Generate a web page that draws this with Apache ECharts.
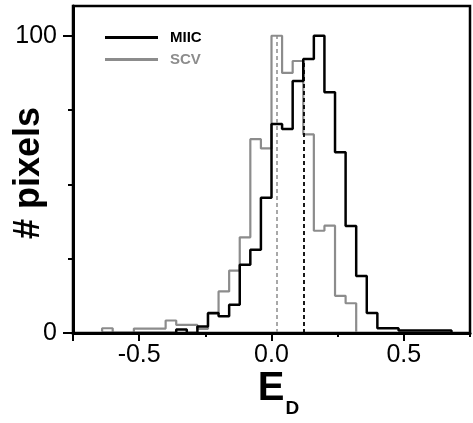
<!DOCTYPE html>
<html>
<head>
<meta charset="utf-8">
<script src="https://cdn.jsdelivr.net/npm/echarts@6/dist/echarts.min.js"></script>
<style>
  html, body { margin: 0; padding: 0; background: #fff; }
  #chart { width: 473px; height: 423px; }
</style>
</head>
<body>
<div id="chart"></div>
<script>
// histogram bin edges (bin width 0.04)
var binEdges = [-0.64, -0.60, -0.56, -0.52, -0.48, -0.44, -0.40, -0.36, -0.32, -0.28,
  -0.24, -0.20, -0.16, -0.12, -0.08, -0.04, 0.00, 0.04, 0.08, 0.12,
  0.16, 0.20, 0.24, 0.28, 0.32, 0.36, 0.40, 0.44, 0.48, 0.52,
  0.56, 0.60, 0.64, 0.68]

// counts per bin
var miicCounts = [0, 0, 0, 0, 0, 0, 0, 1.2, 0, 2.2,
  6.7, 5.6, 9.5, 23, 28, 45.5, 70.3, 68.6, 84.8, 92.2,
  100, 81, 60.8, 36, 19.2, 6.7, 1.6, 1.6, 0.8, 0.8,
  0.8, 0.8, 0.8]
var scvCounts = [1.6, 0, 0, 1.5, 1.5, 1.5, 4.2, 2.7, 2.7, 1.4,
  6.5, 14, 21, 32.2, 65.2, 62.1, 100, 87.5, 91.5, 66.8,
  34.4, 36.1, 12.5, 10]

// mean E_D markers (dashed lines)
var meanMIIC = 0.12
var meanSCV = 0.02

var xTickMajor = [-0.75, -0.5, 0, 0.5]
var xTickMinor = [-0.75, -0.5, -0.25, 0, 0.25, 0.5, 0.75]
var xLabelValues = [-0.5, 0, 0.5]
var yTickMinor = [0, 25, 50, 75, 100]
var yLabelValues = [0, 100]

var BLACK = '#000'
var GREY = '#8c8c8c'
var FONT = 'Liberation Sans, Arial, sans-serif'

function stepData (counts) {
  var pts = [[binEdges[0], 0]]
  for (var i = 0; i < counts.length; i++) {
    pts.push([binEdges[i], counts[i]])
  }
  pts.push([binEdges[counts.length], 0])
  return pts
}

function heightAt (counts, x) {
  for (var i = 0; i < counts.length; i++) {
    if (x >= binEdges[i] - 1e-9 && x < binEdges[i + 1] - 1e-9) return counts[i]
  }
  return 0
}

function meanLine (counts, x, color, width) {
  return {
    silent: true,
    animation: false,
    symbol: ['none', 'none'],
    label: { show: false },
    lineStyle: { color: color, type: [4, 3], width: width },
    data: [[{ coord: [x, 0] }, { coord: [x, heightAt(counts, x)] }]]
  }
}

var chart = echarts.init(document.getElementById('chart'), null, { renderer: 'canvas' })

var option = {
  animation: false,
  textStyle: { fontFamily: FONT },
  grid: {
    left: 73, right: 3, top: 6, bottom: 85,
    show: true, borderColor: BLACK, borderWidth: 2.5
  },
  legend: {
    orient: 'vertical',
    left: 100,
    top: 25,
    itemWidth: 53,
    itemHeight: 3,
    itemGap: 7,
    textStyle: { fontSize: 15, fontWeight: 'bold', fontFamily: FONT, padding: [0, 0, 0, 7] },
    data: [
      { name: 'MIIC', icon: 'rect', textStyle: { color: BLACK } },
      { name: 'SCV', icon: 'rect', textStyle: { color: GREY } }
    ]
  },
  xAxis: [
    {
      type: 'value', min: -0.75, max: 0.75, position: 'bottom', z: 5,
      axisLine: { onZero: false, lineStyle: { color: BLACK, width: 3 } },
      axisTick: { length: 4, customValues: xTickMinor, lineStyle: { color: BLACK, width: 2 } },
      axisLabel: { show: false },
      splitLine: { show: false },
      name: '{e|E}{d|D}',
      nameLocation: 'middle',
      nameGap: 36,
      nameTextStyle: {
        padding: [0, 0, 0, 14],
        rich: {
          e: { fontSize: 40, fontWeight: 'bold', color: BLACK, fontFamily: FONT, verticalAlign: 'top' },
          d: { fontSize: 19, fontWeight: 'bold', color: BLACK, fontFamily: FONT, verticalAlign: 'top', padding: [30, 0, 0, 1] }
        }
      }
    },
    {
      type: 'value', min: -0.75, max: 0.75, position: 'bottom', z: 5,
      axisLine: { show: false, onZero: false },
      axisTick: { length: 8, customValues: xTickMajor, lineStyle: { color: BLACK, width: 2 } },
      axisLabel: {
        customValues: xLabelValues,
        fontSize: 25, color: BLACK, margin: 10, fontFamily: FONT,
        formatter: function (v) { return v.toFixed(1) }
      },
      splitLine: { show: false }
    }
  ],
  yAxis: [
    {
      type: 'value', min: 0, max: 110, position: 'left', z: 5,
      axisLine: { show: true, onZero: false, lineStyle: { color: BLACK, width: 3 } },
      axisTick: { show: true, length: 5, customValues: yTickMinor, lineStyle: { color: BLACK, width: 2 } },
      axisLabel: { show: false },
      splitLine: { show: false },
      name: '# pixels',
      nameLocation: 'middle',
      nameRotate: 90,
      nameGap: 26,
      nameTextStyle: { fontSize: 36, fontWeight: 'bold', color: BLACK, fontFamily: FONT, padding: [0, 7, 0, 0] }
    },
    {
      type: 'value', min: 0, max: 110, position: 'left', z: 5,
      axisLine: { show: false, onZero: false },
      axisTick: { show: true, length: 10, customValues: yLabelValues, lineStyle: { color: BLACK, width: 2 } },
      axisLabel: { customValues: yLabelValues, fontSize: 25, color: BLACK, margin: 16, fontFamily: FONT },
      splitLine: { show: false }
    }
  ],
  series: [
    {
      name: 'SCV',
      type: 'line',
      step: 'end',
      showSymbol: false,
      symbol: 'none',
      color: GREY,
      lineStyle: { color: GREY, width: 2.2 },
      data: stepData(scvCounts),
      markLine: meanLine(scvCounts, meanSCV, GREY, 1.5),
      z: 2
    },
    {
      name: 'MIIC',
      type: 'line',
      step: 'end',
      showSymbol: false,
      symbol: 'none',
      color: BLACK,
      lineStyle: { color: BLACK, width: 2.5 },
      data: stepData(miicCounts),
      markLine: meanLine(miicCounts, meanMIIC, BLACK, 1.8),
      z: 3
    }
  ]
}

chart.setOption(option)
</script>
</body>
</html>
